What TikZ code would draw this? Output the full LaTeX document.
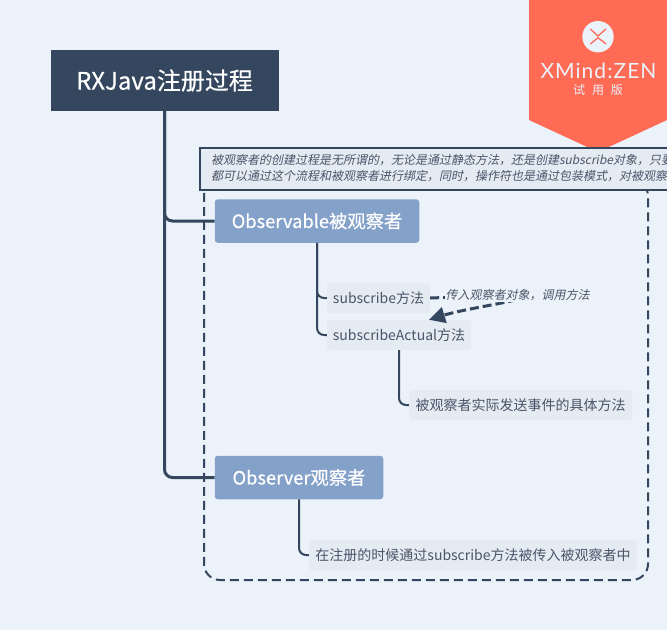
\documentclass[tikz,border=0pt]{standalone}
\usepackage{fontspec}
\setmainfont{Noto Sans CJK SC}
\newfontfamily\slantfont[FakeSlant=0.2]{Noto Sans CJK SC}
\newfontfamily\heavyfont[FakeBold=0.4]{Noto Sans CJK SC}
\newfontfamily\trialfont[WordSpace=2.6]{Noto Sans CJK SC}
\newfontfamily\logofont[LetterSpace=5]{Lato}
\usetikzlibrary{arrows.meta}

\definecolor{paper}{HTML}{EBF2FA}
\definecolor{navy}{HTML}{34475F}
\definecolor{steel}{HTML}{84A1C9}
\definecolor{leaf}{HTML}{E5EBF3}
\definecolor{ink}{HTML}{4A5568}
\definecolor{banner}{HTML}{FF6B54}

\tikzset{
  rootbox/.style={fill=navy,text=white,inner sep=0pt,minimum width=228pt,minimum height=61pt,font=\heavyfont\fontsize{24}{28}\selectfont},
  mainbox/.style={fill=steel,text=white,rounded corners=3pt,inner sep=0pt,minimum height=43.5pt,font=\heavyfont\fontsize{18.3}{22}\selectfont},
  leafbox/.style={fill=leaf,text=ink,rounded corners=3pt,inner sep=0pt,minimum height=30pt,font=\fontsize{14}{17}\selectfont},
  notebox/.style={draw=navy,line width=2pt,fill=leaf,text=ink,inner sep=0pt,minimum height=42pt},
  trunk/.style={draw=navy,line width=3pt,rounded corners=8pt},
  branch/.style={draw=navy,line width=2pt,rounded corners=7pt},
  relation/.style={draw=navy,line width=3pt,dash pattern=on 9pt off 4pt,-{Triangle[length=16pt,width=16pt]}},
  logotext/.style={text=paper,inner sep=0pt}
}

\begin{document}
\begin{tikzpicture}[x=1pt,y=-1pt]
  \useasboundingbox (0,0) rectangle (667,630);
  \clip (0,0) rectangle (667,630);
  \fill[paper] (0,0) rectangle (667,630);

  \fill[banner] (529,0) -- (667,0) -- (667,120) -- (598,152) -- (529,120) -- cycle;
  \fill[paper] (598,36.7) circle (15.7);
  \draw[banner,line width=1.3pt] (590.3,29) -- (598,36) -- (606,29);
  \draw[banner,line width=1.3pt] (590.3,44) -- (598,37.7) -- (606,44);
  \node[logotext,font=\logofont\fontsize{21}{24}\selectfont](Logo) at (598.5,71) {XMind:ZEN};
  \node[logotext,font=\trialfont\fontsize{12}{14}\selectfont](Trial) at (598,90) {试 用 版};

  \node[draw=navy,line width=2pt,dash pattern=on 9pt off 5pt,rounded corners=16pt,inner sep=0pt,minimum width=444pt,minimum height=400pt](Boundary) at (426,380) {};
  \node[notebox,anchor=west,text width=490pt,align=left,font=\slantfont\fontsize{12}{16}\selectfont](Summary) at (199,168.5) {\hspace*{11pt}被观察者的创建过程是无所谓的，无论是通过静态方法，还是创建subscribe对象，只要\\\hspace*{11pt}都可以通过这个流程和被观察者进行绑定，同时，操作符也是通过包装模式，对被观察};

  \node[rootbox](Root) at (164.5,80.5) {RXJava注册过程};
  \node[mainbox,minimum width=204.5pt](Observable) at (317,221) {Observable被观察者};
  \node[mainbox,minimum width=168.5pt](Observer) at (299,477.5) {Observer观察者};
  \node[leafbox,minimum width=103pt](SubMethod) at (378.5,298) {subscribe方法};
  \node[leafbox,minimum width=144pt](ActualMethod) at (399,335) {subscribeActual方法};
  \node[leafbox,minimum width=223pt](EmitDetail) at (520.5,405) {被观察者实际发送事件的具体方法};
  \node[leafbox,minimum width=328pt](PassDetail) at (473,555) {在注册的时候通过subscribe方法被传入被观察者中};

  \draw[trunk] (Root.south) |- (Observable.west);
  \draw[trunk] (Root.south) |- (Observer.west);
  \draw[branch] (Observable.south) |- (SubMethod.west);
  \draw[branch] (Observable.south) |- (ActualMethod.west);
  \draw[branch] (ActualMethod.south) |- (EmitDetail.west);
  \draw[branch] (Observer.south) |- (PassDetail.west);

  \draw[relation] (SubMethod.east) .. controls (600,292) and (480,304) .. ([xshift=30pt]ActualMethod.north);
  \node[fill=paper,text=ink,inner sep=1pt,font=\slantfont\fontsize{12}{14}\selectfont](RelationLabel) at (517.5,295.5) {传入观察者对象，调用方法};
\end{tikzpicture}
\end{document}
